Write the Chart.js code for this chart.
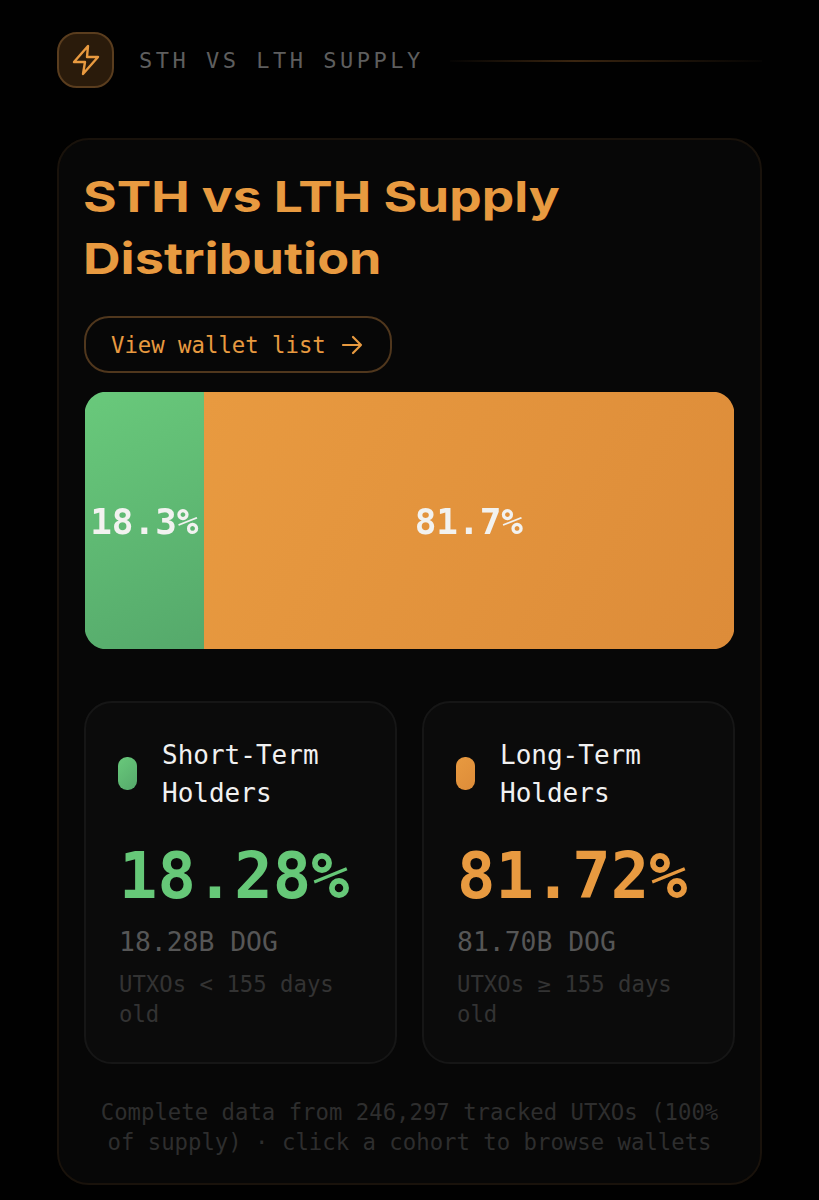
<!DOCTYPE html>
<html>
<head>
<meta charset="utf-8">
<title>STH vs LTH Supply</title>
<script src="https://cdn.jsdelivr.net/npm/chart.js@4"></script>
<style>
html, body { margin: 0; padding: 0; background: #010101; }
body { width: 819px; height: 1200px; position: relative; overflow: hidden; font-family: "DejaVu Sans Mono", monospace; }
.abs { position: absolute; white-space: nowrap; }
.box { position: absolute; box-sizing: border-box; }
#card { left: 57px; top: 138px; width: 705px; height: 1047px; border-radius: 32px; background: #070707; border: 2px solid #19120b; }
.sub { top: 701px; width: 313px; height: 363px; border-radius: 28px; background: #0b0b0b; border: 2px solid #161616; }
.swatch { top: 757px; width: 19px; height: 33px; border-radius: 9px; }
#icon { left: 57px; top: 32px; width: 57px; height: 56px; border-radius: 20px; background: #2a1b0b; border: 2px solid #5a3d1e; }
#rule { left: 450px; top: 60px; width: 312px; height: 2px; background: linear-gradient(90deg, #050403, #3a2510 40%, #050403); }
#btn { left: 84px; top: 316px; width: 308px; height: 57px; border-radius: 25px; border: 2px solid #50371d; }
#title1, #title2 { font-family: Inter, sans-serif; font-weight: 700; font-size: 43px; line-height: 50px; color: #e89a40; transform-origin: left top; }
#chartWrap { position: absolute; left: 85px; top: 392px; width: 649px; height: 257px; }
</style>
</head>
<body>
<div class="box" id="card"></div>
<div class="box" id="icon"></div>
<svg class="abs" style="left:71px;top:44px" width="30" height="32" viewBox="0 0 30 32" fill="none" stroke="#e89a40" stroke-width="2.4" stroke-linejoin="round">
  <path d="M17 2 L3 18 H14 L12 30 L27 13 H16 Z"/>
</svg>
<div class="abs" id="head" style="left:139px;top:47px;font-size:22px;line-height:28px;letter-spacing:3.5px;color:#5e5e5e">STH VS LTH SUPPLY</div>
<div class="box" id="rule"></div>

<div class="abs" id="title1" style="left:83px;top:171px">STH vs LTH Supply</div>
<div class="abs" id="title2" style="left:83px;top:233px">Distribution</div>

<div class="box" id="btn"></div>
<div class="abs" style="left:111px;top:331px;font-size:22.3px;line-height:28px;color:#e89a40">View wallet list</div>
<svg class="abs" style="left:341px;top:334px" width="23" height="22" viewBox="0 0 23 22" fill="none" stroke="#e89a40" stroke-width="2.2" stroke-linecap="round" stroke-linejoin="round">
  <path d="M2 11 H20 M12 3 L20 11 L12 19"/>
</svg>

<div id="chartWrap"><canvas id="myChart"></canvas></div>

<div class="box sub" style="left:84px"></div>
<div class="box sub" style="left:422px"></div>
<div id="cohorts"></div>

<div class="abs" style="left:58px;width:703px;top:1097px;text-align:center;font-size:22.3px;line-height:30px;color:#2e2e2e">Complete data from 246,297 tracked UTXOs (100%<br>of supply) · click a cohort to browse wallets</div>

<script>
const categories = ['Supply'];
const cohortNames = ['Short-Term Holders', 'Long-Term Holders'];
const shares = [18.28, 81.72];
const barLabels = ['18.3%', '81.7%'];
const bigLabels = ['18.28%', '81.72%'];
const supplyLabels = ['18.28B DOG', '81.70B DOG'];
const ageLabels = ['UTXOs < 155 days', 'UTXOs ≥ 155 days'];
const nameLines = [['Short-Term', 'Holders'], ['Long-Term', 'Holders']];
const solid = ['#66c878', '#e89a40'];
const gradStops = [['#69c97b', '#55a96b'], ['#e89a40', '#dd8c39']];
const cohortLeft = [119, 457];

// stretch the title, no wide display font is installed
function fit(id, width) {
    const el = document.getElementById(id);
    el.style.transform = 'scaleX(' + (width / el.offsetWidth) + ')';
}
fit('title1', 477);
fit('title2', 298);

// cohort cards
const holder = document.getElementById('cohorts');
function addText(left, top, size, lh, color, text, weight) {
    const d = document.createElement('div');
    d.className = 'abs';
    d.style.cssText = 'left:' + left + 'px;top:' + top + 'px;font-size:' + size + 'px;line-height:' + lh + 'px;color:' + color + ';font-weight:' + (weight || 400);
    d.textContent = text;
    holder.appendChild(d);
}
for (let i = 0; i < cohortNames.length; i++) {
    const x = cohortLeft[i];
    const sw = document.createElement('div');
    sw.className = 'box swatch';
    sw.style.left = (x - 1) + 'px';
    sw.style.background = 'linear-gradient(135deg,' + gradStops[i][0] + ',' + gradStops[i][1] + ')';
    holder.appendChild(sw);
    addText(x + 43, 739, 26, 32, '#f1f1f1', nameLines[i][0], 500);
    addText(x + 43, 777, 26, 32, '#f1f1f1', nameLines[i][1], 500);
    addText(x, 838, 63.8, 76, solid[i], bigLabels[i], 700);
    addText(x, 926, 26.4, 32, '#565656', supplyLabels[i]);
    addText(x, 969, 22.3, 30, '#333333', ageLabels[i]);
    addText(x, 999, 22.3, 30, '#333333', 'old');
}

function fillFor(i) {
    return function (context) {
        const area = context.chart.chartArea;
        if (!area) return solid[i];
        const left = i === 0 ? area.left : area.left + area.width * shares[0] / 100;
        const right = i === 0 ? left + area.width * shares[0] / 100 : area.right;
        const g = context.chart.ctx.createLinearGradient(left, area.top, right, area.bottom);
        g.addColorStop(0, gradStops[i][0]);
        g.addColorStop(1, gradStops[i][1]);
        return g;
    };
}

// percent text in the middle of each bar
const barText = {
    id: 'barText',
    afterDatasetsDraw(chart) {
        const ctx = chart.ctx;
        ctx.save();
        ctx.font = '700 36px "DejaVu Sans Mono"';
        ctx.fillStyle = '#f2f2f0';
        ctx.textAlign = 'center';
        ctx.textBaseline = 'middle';
        chart.data.datasets.forEach((ds, i) => {
            const bar = chart.getDatasetMeta(i).data[0];
            ctx.fillText(barLabels[i], (bar.base + bar.x) / 2, bar.y + 4);
        });
        ctx.restore();
    }
};

new Chart(document.getElementById('myChart').getContext('2d'), {
    type: 'bar',
    data: {
        labels: categories,
        datasets: [
            {
                label: cohortNames[0],
                data: [shares[0]],
                backgroundColor: fillFor(0),
                borderRadius: { topLeft: 22, bottomLeft: 22, topRight: 0, bottomRight: 0 },
                borderSkipped: false
            },
            {
                label: cohortNames[1],
                data: [shares[1]],
                backgroundColor: fillFor(1),
                borderRadius: { topLeft: 0, bottomLeft: 0, topRight: 22, bottomRight: 22 },
                borderSkipped: false
            }
        ]
    },
    options: {
        indexAxis: 'y',
        responsive: true,
        maintainAspectRatio: false,
        animation: false,
        barPercentage: 1,
        categoryPercentage: 1,
        layout: { padding: 0 },
        plugins: { legend: { display: false }, tooltip: { enabled: false } },
        scales: {
            x: { stacked: true, min: 0, max: 100, display: false },
            y: { stacked: true, display: false }
        }
    },
    plugins: [barText]
});
</script>
</body>
</html>
